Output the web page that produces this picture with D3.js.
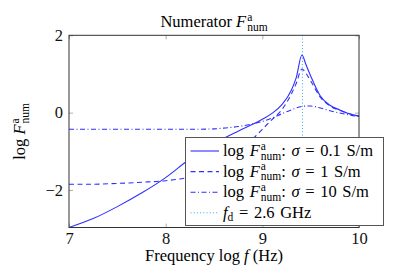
<!doctype html>
<html>
<head>
<meta charset="utf8">
<style>
  body { margin: 0; background: #fff; }
  .tick line { stroke: #999; stroke-width: 0.8; }
</style>
<script src="https://cdn.jsdelivr.net/npm/d3@7"></script>
</head>
<body>
<svg width="408" height="274"></svg>
<script>
// x = log10 of frequency (Hz)
var logFreq = [7, 7.25, 7.5, 7.75, 8, 8.25, 8.5, 8.6, 8.75, 8.9, 9, 9.1, 9.2, 9.3, 9.35, 9.41, 9.45, 9.5, 9.6, 9.7, 9.8, 9.9, 10];
// log F_num for each conductivity
var sigma01 = [-2.97, -2.74, -2.43, -2.08, -1.68, -1.20, -0.82, -0.67, -0.48, -0.30, -0.17, -0.02, 0.20, 0.58, 0.90, 1.49, 1.25, 0.95, 0.43, 0.19, 0.07, -0.03, -0.09];
var sigma1 = [-1.85, -1.85, -1.83, -1.80, -1.76, -1.66, -1.40, -1.26, -1.00, -0.68, -0.43, -0.18, 0.07, 0.48, 0.75, 1.13, 1.02, 0.82, 0.40, 0.17, 0.06, -0.03, -0.09];
var sigma10 = [-0.43, -0.43, -0.43, -0.43, -0.43, -0.43, -0.42, -0.40, -0.36, -0.29, -0.23, -0.14, -0.03, 0.07, 0.12, 0.16, 0.17, 0.17, 0.12, 0.05, -0.01, -0.06, -0.10];
var fd = 2.6e9;
var xTicks = [7, 8, 9, 10];
var yTicks = [-2, 0, 2];
var seriesLabels = ["0.1", "1", "10"];

var svg = d3.select("svg"),
    margin = {left: 69, top: 35.3, right: 49, bottom: 46.5},
    width = 408 - margin.left - margin.right,
    height = 274 - margin.top - margin.bottom;

var x = d3.scaleLinear().domain([7, 10]).range([0, width]),
    y = d3.scaleLinear().domain([d3.min(sigma01), 2]).range([height, 0]);

var g = svg.append("g")
    .attr("transform", "translate(" + margin.left + "," + margin.top + ")");

var blue = "#2e2eff";
var serif = "Liberation Serif";
var fs = 16.5, ss = 11.5;

// measure text width
var probe = svg.append("text").attr("visibility", "hidden").style("font-family", serif);
function textW(str, size, italic) {
    probe.attr("font-size", size).style("font-style", italic ? "italic" : "normal").text(str);
    return probe.node().getComputedTextLength();
}

// appends "F^a_num" as tspans, leaves baseline shifted down by 3.5
function addF(t) {
    t.append("tspan").style("font-style", "italic").text("F");
    var wa = textW("a", ss);
    t.append("tspan").attr("font-size", ss).attr("dx", 1).attr("dy", -6.5).text("a");
    t.append("tspan").attr("font-size", ss).attr("dx", -wa).attr("dy", 10).text("num");
}

function serifText(a) {
    a.attr("font-family", null);
    a.selectAll("text").style("font-family", serif).attr("font-size", fs).attr("fill", "#111");
}

// axes ticks
g.append("g")
    .attr("transform", "translate(0," + height + ")")
    .call(d3.axisBottom(x).tickValues(xTicks).tickSize(-4).tickPadding(5).tickFormat(d3.format("d")))
    .call(function(a) { a.select(".domain").remove(); serifText(a); });
g.append("g")
    .call(d3.axisTop(x).tickValues(xTicks).tickSize(-4).tickFormat(""))
    .call(function(a) { a.select(".domain").remove(); });
g.append("g")
    .call(d3.axisLeft(y).tickValues(yTicks).tickSize(-4).tickPadding(6).tickFormat(d3.format("d")))
    .call(function(a) { a.select(".domain").remove(); serifText(a); });
g.append("g")
    .attr("transform", "translate(" + width + ",0)")
    .call(d3.axisRight(y).tickValues(yTicks).tickSize(-4).tickFormat(""))
    .call(function(a) { a.select(".domain").remove(); });

// curves
var series = [
    {values: sigma01, dash: null},
    {values: sigma1, dash: "5,3.5"},
    {values: sigma10, dash: "5,2.5,1,2.5"}
];
var line = d3.line()
    .x(function(d) { return x(d[0]); })
    .y(function(d) { return y(d[1]); })
    .curve(d3.curveMonotoneX);

g.append("line")
    .attr("x1", x(Math.log10(fd))).attr("x2", x(Math.log10(fd)))
    .attr("y1", 0).attr("y2", height)
    .attr("stroke", "#3aa8f5").attr("stroke-width", 1)
    .attr("stroke-dasharray", "1,2.2");

g.selectAll(".curve")
    .data(series)
    .enter().append("path")
    .attr("class", "curve")
    .attr("fill", "none")
    .attr("stroke", blue)
    .attr("stroke-width", 1.1)
    .attr("stroke-dasharray", function(d) { return d.dash; })
    .attr("d", function(d) { return line(d3.zip(logFreq, d.values)); });

// frame
g.append("rect")
    .attr("width", width).attr("height", height)
    .attr("fill", "none").attr("stroke", "#333").attr("stroke-width", 1);

// title
var title = svg.append("text")
    .attr("x", margin.left + width / 2).attr("y", 27)
    .attr("text-anchor", "middle").attr("font-size", fs).style("font-family", serif);
title.append("tspan").text("Numerator ");
addF(title);

// x label
var xl = svg.append("text")
    .attr("x", margin.left + width / 2).attr("y", 261)
    .attr("text-anchor", "middle").attr("font-size", fs).style("font-family", serif);
xl.append("tspan").text("Frequency log ");
xl.append("tspan").style("font-style", "italic").text("f");
xl.append("tspan").text(" (Hz)");

// y label
var yl = svg.append("text")
    .attr("transform", "translate(25," + (margin.top + height / 2) + ") rotate(-90)")
    .attr("text-anchor", "middle").attr("font-size", fs).style("font-family", serif);
yl.append("tspan").text("log ");
addF(yl);

// legend
var lg = svg.append("g").attr("transform", "translate(185.5,137.5)");
lg.append("rect")
    .attr("width", 198).attr("height", 88)
    .attr("fill", "#fff").attr("stroke", "#555").attr("stroke-width", 1);

var rows = series.map(function(s, i) { return {dash: s.dash, color: blue, label: seriesLabels[i]}; });
rows.push({dash: "1,2.2", color: "#3aa8f5", label: null});

rows.forEach(function(r, i) {
    var cy = 13.5 + i * 20.6;
    lg.append("line")
        .attr("x1", 5).attr("x2", 33.5).attr("y1", cy).attr("y2", cy)
        .attr("stroke", r.color).attr("stroke-width", 1.1)
        .attr("stroke-dasharray", r.dash);
    var t = lg.append("text").attr("x", 37.5).attr("y", cy + 5)
        .attr("font-size", fs).style("font-family", serif)
        .style("word-spacing", "1.5px");
    if (r.label !== null) {
        t.append("tspan").text("log ");
        addF(t);
        t.append("tspan").attr("dy", -3.5).text(":  ");
        t.append("tspan").style("font-style", "italic").text("σ");
        t.append("tspan").text(" = " + r.label + " S/m");
    } else {
        t.append("tspan").style("font-style", "italic").text("f");
        t.append("tspan").attr("font-size", ss).attr("dy", 3).text("d");
        t.append("tspan").attr("dy", -3).text(" = " + (fd / 1e9) + " GHz");
    }
});
probe.remove();
</script>
</body>
</html>
